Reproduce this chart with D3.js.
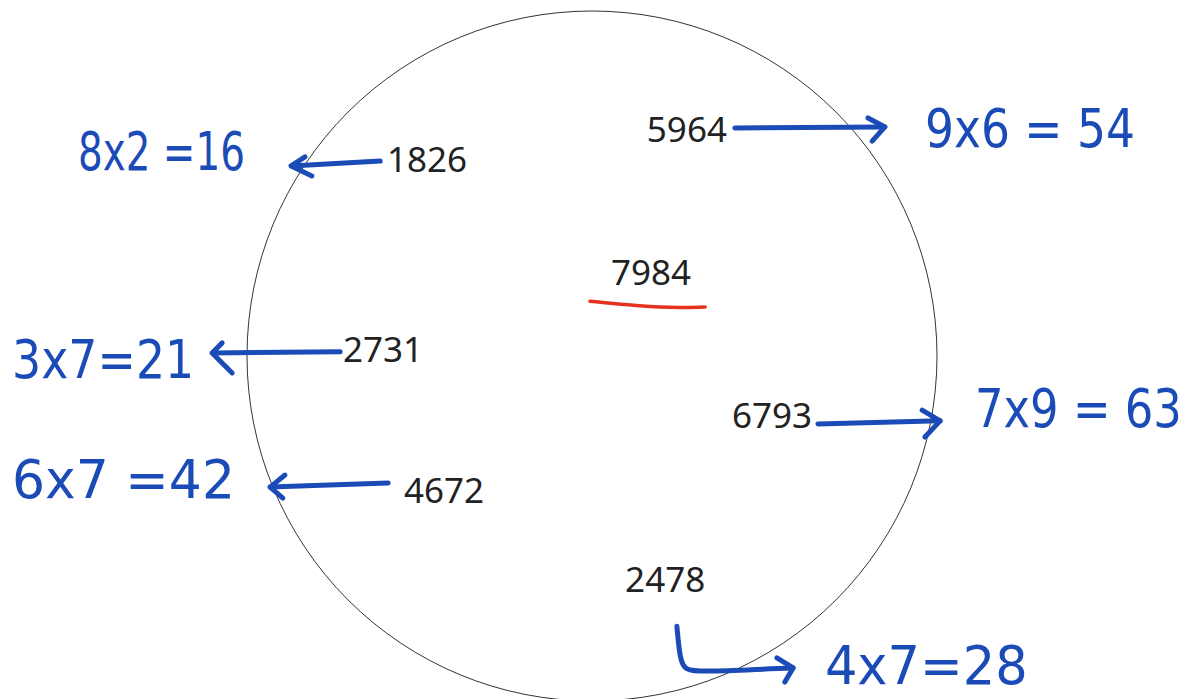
<!DOCTYPE html>
<html>
<head>
<meta charset="utf-8">
<script src="https://cdn.jsdelivr.net/npm/d3@7"></script>
<style>
  body { margin: 0; background: #fff; }
  svg { display: block; }
</style>
</head>
<body>
<script>
// the numbers written inside the circle
var numbers   = ["1826", "5964", "7984", "2731", "6793", "4672", "2478"];
// the blue notes, one per number (7984 has none, it is underlined)
var notes     = ["8x2 =16", "9x6 = 54", null, "3x7=21", "7x9 = 63", "6x7 =42", "4x7=28"];

// layout, in units of the circle (centre 0,0 ; radius 1)
var numberPos = [[-0.594, -0.533], [0.159, -0.620], [0.055, -0.206], [-0.722, 0.017],
                 [0.406, 0.209], [-0.545, 0.426], [0.096, 0.684]];
var notePos   = [[-1.490, -0.539, 0.484], [0.965, -0.606, 0.609], null, [-1.681, 0.064, 0.528],
                 [1.110, 0.206, 0.600], [-1.681, 0.412, 0.646], [0.675, 0.952, 0.588]];
// arrow shafts and heads
var shafts = [
  [[-0.614, -0.565], [-0.872, -0.551]],
  [[0.414, -0.661], [0.849, -0.664]],
  null,
  [[-0.730, -0.012], [-1.101, -0.009]],
  [[0.655, 0.197], [1.009, 0.188]],
  [[-0.591, 0.368], [-0.933, 0.380]],
  [[0.246, 0.783], [0.255, 0.881], [0.270, 0.910], [0.313, 0.916], [0.583, 0.904]]
];
var heads = [
  [[-0.832, -0.577], [-0.872, -0.551], [-0.812, -0.522]],
  [[0.800, -0.690], [0.849, -0.664], [0.812, -0.623]],
  null,
  [[-1.072, -0.038], [-1.101, -0.009], [-1.043, 0.049]],
  [[0.957, 0.157], [1.009, 0.188], [0.965, 0.235]],
  [[-0.890, 0.345], [-0.933, 0.380], [-0.896, 0.412]],
  [[0.536, 0.875], [0.583, 0.904], [0.559, 0.945]]
];
var redLine = [[-0.006, -0.159], [0.101, -0.148], [0.226, -0.139], [0.328, -0.142]];

var width = 1194, height = 699;
var cx = 592, cy = 356, r = 345;

var x = d3.scaleLinear().domain([-1, 1]).range([cx - r, cx + r]);
var y = d3.scaleLinear().domain([-1, 1]).range([cy - r, cy + r]);
var len = function(u) { return x(u) - x(0); };

var svg = d3.select("body").append("svg")
  .attr("width", width)
  .attr("height", height);

svg.append("rect").attr("width", width).attr("height", height).attr("fill", "#fff");

// the circle
svg.append("circle")
  .attr("cx", x(0)).attr("cy", y(0)).attr("r", len(1))
  .attr("fill", "none")
  .attr("stroke", "#333")
  .attr("stroke-width", 1);

var blue = "#1b4bb7";
var line = d3.line().x(function(d) { return x(d[0]); }).y(function(d) { return y(d[1]); });

// arrows
svg.selectAll("path.shaft")
  .data(shafts.filter(function(d) { return d; }))
  .enter().append("path")
  .attr("class", "shaft")
  .attr("d", line.curve(d3.curveBasis))
  .attr("fill", "none").attr("stroke", blue)
  .attr("stroke-width", 5).attr("stroke-linecap", "round").attr("stroke-linejoin", "round");

var straight = d3.line().x(function(d) { return x(d[0]); }).y(function(d) { return y(d[1]); });
svg.selectAll("path.head")
  .data(heads.filter(function(d) { return d; }))
  .enter().append("path")
  .attr("class", "head")
  .attr("d", straight)
  .attr("fill", "none").attr("stroke", blue)
  .attr("stroke-width", 5).attr("stroke-linecap", "round").attr("stroke-linejoin", "round");

// red underline
svg.append("path")
  .datum(redLine)
  .attr("d", d3.line().x(function(d) { return x(d[0]); }).y(function(d) { return y(d[1]); }).curve(d3.curveBasis))
  .attr("fill", "none").attr("stroke", "#e5321f")
  .attr("stroke-width", 3.5).attr("stroke-linecap", "round");

// black numbers
svg.selectAll("text.num")
  .data(numbers)
  .enter().append("text")
  .attr("class", "num")
  .attr("x", function(d, i) { return x(numberPos[i][0]); })
  .attr("y", function(d, i) { return y(numberPos[i][1]); })
  .attr("font-family", "'Noto Sans', 'Open Sans', sans-serif")
  .attr("font-size", 35)
  .attr("fill", "#222")
  .text(function(d) { return d; });

// blue notes, squeezed horizontally to the width of the handwriting
var noteData = notes.map(function(n, i) { return {text: n, pos: notePos[i]}; })
  .filter(function(d) { return d.text; });

svg.selectAll("text.note")
  .data(noteData)
  .enter().append("text")
  .attr("class", "note")
  .attr("font-family", "'DejaVu Sans', sans-serif")
  .attr("font-size", 54)
  .attr("fill", blue)
  .text(function(d) { return d.text; })
  .attr("transform", function(d) {
    var k = len(d.pos[2]) / this.getComputedTextLength();
    return "translate(" + x(d.pos[0]) + "," + y(d.pos[1]) + ") scale(" + k + ",1)";
  });
</script>
</body>
</html>
